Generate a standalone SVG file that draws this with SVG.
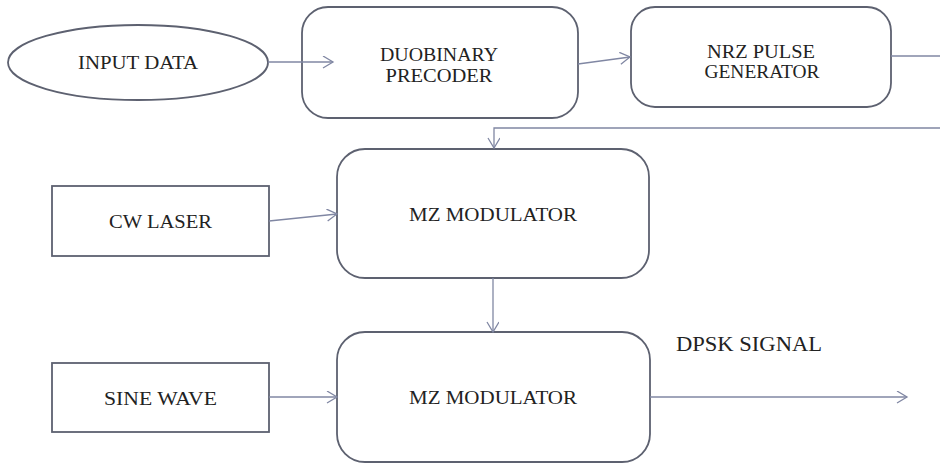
<svg xmlns="http://www.w3.org/2000/svg" width="940" height="463" viewBox="0 0 940 463">
<style>
.box{fill:#fff;stroke:#5d6170;stroke-width:1.8}
.c{fill:none;stroke:#8087a3;stroke-width:1.3}
</style>
<defs>
<marker id="ah" markerUnits="userSpaceOnUse" markerWidth="14" markerHeight="14" refX="11" refY="6" orient="auto">
<path d="M1,0 L11,6 L1,12" fill="none" stroke="#8087a3" stroke-width="1.3"/>
</marker>
</defs>
<rect width="940" height="463" fill="#fff"/>
<g font-family="Liberation Serif, DejaVu Serif, serif" font-size="18" fill="#222" text-anchor="middle">
<g id="input-data">
<ellipse class="box" cx="138" cy="62.5" rx="130" ry="37.5"/>
<text x="138" y="69" textLength="120" lengthAdjust="spacingAndGlyphs">INPUT DATA</text>
</g>
<g id="duobinary-precoder">
<rect class="box" x="302" y="7" width="276" height="111" rx="26"/>
<text x="439" y="61" textLength="118" lengthAdjust="spacingAndGlyphs">DUOBINARY</text>
<text x="439" y="82" textLength="107" lengthAdjust="spacingAndGlyphs">PRECODER</text>
</g>
<g id="nrz-pulse-generator">
<rect class="box" x="631" y="7" width="260" height="100" rx="24"/>
<text x="761" y="58" textLength="108" lengthAdjust="spacingAndGlyphs">NRZ PULSE</text>
<text x="762" y="78" textLength="115" lengthAdjust="spacingAndGlyphs">GENERATOR</text>
</g>
<g id="cw-laser">
<rect class="box" x="52" y="186" width="217" height="70"/>
<text x="160.5" y="228" textLength="103" lengthAdjust="spacingAndGlyphs">CW LASER</text>
</g>
<g id="mz-modulator-1">
<rect class="box" x="337" y="149" width="312" height="129" rx="28"/>
<text x="493" y="221" textLength="168" lengthAdjust="spacingAndGlyphs">MZ MODULATOR</text>
</g>
<g id="sine-wave">
<rect class="box" x="52" y="363" width="217" height="69"/>
<text x="160.5" y="405" textLength="113" lengthAdjust="spacingAndGlyphs">SINE WAVE</text>
</g>
<g id="mz-modulator-2">
<rect class="box" x="337" y="332" width="313" height="130" rx="28"/>
<text x="493" y="404" textLength="168" lengthAdjust="spacingAndGlyphs">MZ MODULATOR</text>
</g>
<g id="dpsk-label">
<text x="749" y="351" font-size="20" textLength="146" lengthAdjust="spacingAndGlyphs">DPSK SIGNAL</text>
</g>
</g>
<g id="connectors">
<line class="c" x1="268" y1="62" x2="333" y2="62" marker-end="url(#ah)"/>
<line class="c" x1="578" y1="64" x2="630" y2="57" marker-end="url(#ah)"/>
<polyline class="c" points="891,56 940,56"/>
<polyline class="c" points="940,128 494,128 494,148" marker-end="url(#ah)"/>
<line class="c" x1="269" y1="221" x2="337" y2="214" marker-end="url(#ah)"/>
<line class="c" x1="493" y1="278" x2="493" y2="332" marker-end="url(#ah)"/>
<line class="c" x1="269" y1="397" x2="337" y2="397" marker-end="url(#ah)"/>
<line class="c" x1="650" y1="397" x2="907" y2="397" marker-end="url(#ah)"/>
</g>
</svg>
